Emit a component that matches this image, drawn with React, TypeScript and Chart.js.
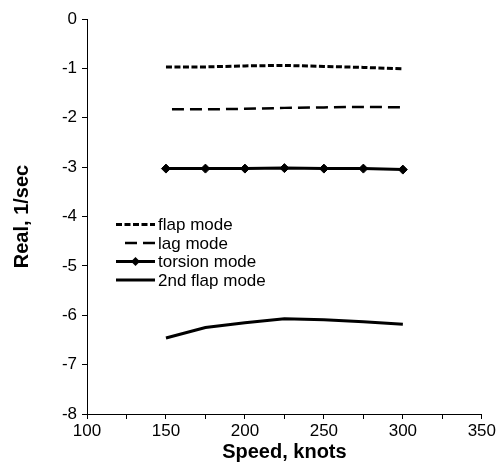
import React, { useEffect, useRef } from "react";
import { Chart, registerables } from "chart.js";

Chart.register(...registerables);

const speeds = [150, 175, 200, 225, 250, 275, 300];
const flapMode = [-0.97, -0.97, -0.95, -0.94, -0.96, -0.98, -1.01];
const lagMode = [-1.83, -1.83, -1.82, -1.8, -1.79, -1.78, -1.79];
const torsionMode = [-3.03, -3.03, -3.03, -3.02, -3.03, -3.03, -3.05];
const flap2Mode = [-6.46, -6.25, -6.15, -6.07, -6.09, -6.13, -6.18];
const seriesLabels = ["flap mode", "lag mode", "torsion mode", "2nd flap mode"];
const xTitle = "Speed, knots";
const yTitle = "Real, 1/sec";

const FONT = "'Liberation Sans', Arial, sans-serif";

const pts = (ys: number[]) => speeds.map((x, i) => ({ x, y: ys[i] }));

const legendPlugin = {
  id: "insideLegend",
  afterDraw(chart: any) {
    const ctx = chart.ctx;
    const ds = chart.data.datasets;
    const x0 = 116;
    const x1 = 155;
    const tx = 158;
    const rows = [224.5, 243, 261.5, 280];
    ctx.save();
    ctx.font = `17px ${FONT}`;
    ctx.textBaseline = "middle";
    ctx.fillStyle = "#000";
    ds.forEach((d: any, i: number) => {
      const y = rows[i];
      ctx.strokeStyle = "#000";
      ctx.lineWidth = d.borderWidth;
      ctx.setLineDash(d.borderDash || []);
      ctx.lineDashOffset = 0;
      ctx.beginPath();
      const start = i === 1 ? 125 : x0;
      ctx.moveTo(start, y);
      ctx.lineTo(x1, y);
      ctx.stroke();
      ctx.setLineDash([]);
      if (d.pointRadius > 0) {
        const cx = (x0 + x1) / 2;
        const r = d.pointRadius;
        ctx.beginPath();
        ctx.moveTo(cx, y - r);
        ctx.lineTo(cx + r, y);
        ctx.lineTo(cx, y + r);
        ctx.lineTo(cx - r, y);
        ctx.closePath();
        ctx.fill();
      }
      ctx.fillText(d.label, tx, y + 1);
    });
    ctx.restore();
  },
};

export default function App() {
  const ref = useRef<HTMLCanvasElement>(null);
  useEffect(() => {
    if (!ref.current) return;
    const chart = new Chart(ref.current, {
      type: "line",
      data: {
        datasets: [
          {
            label: seriesLabels[0],
            data: pts(flapMode),
            borderColor: "#000",
            backgroundColor: "#000",
            borderWidth: 3,
            borderDash: [6, 2.5],
            pointRadius: 0,
            tension: 0,
          },
          {
            label: seriesLabels[1],
            data: pts(lagMode),
            borderColor: "#000",
            backgroundColor: "#000",
            borderWidth: 2.5,
            borderDash: [12, 6],
            borderDashOffset: 12,
            pointRadius: 0,
            tension: 0,
          },
          {
            label: seriesLabels[2],
            data: pts(torsionMode),
            borderColor: "#000",
            backgroundColor: "#000",
            borderWidth: 3,
            pointStyle: "rectRot",
            pointRadius: 4.5,
            pointBorderWidth: 1,
            tension: 0,
          },
          {
            label: seriesLabels[3],
            data: pts(flap2Mode),
            borderColor: "#000",
            backgroundColor: "#000",
            borderWidth: 3,
            pointRadius: 0,
            tension: 0,
          },
        ],
      },
      options: {
        animation: false,
        responsive: false,
        maintainAspectRatio: false,
        layout: { padding: { top: 19, right: 15, left: 0, bottom: 0 } },
        plugins: {
          legend: { display: false },
          tooltip: { enabled: false },
        },
        scales: {
          x: {
            type: "linear",
            min: 100,
            max: 350,
            afterFit: (s: any) => {
              s.height = 52;
            },
            ticks: {
              stepSize: 25,
              autoSkip: false,
              maxRotation: 0,
              color: "#000",
              font: { family: FONT, size: 17 },
              padding: 2,
              callback: (v: any) => (Number(v) % 50 === 0 ? String(v) : ""),
            },
            grid: {
              drawOnChartArea: false,
              drawTicks: true,
              tickLength: 5,
              color: "#000",
            },
            border: { color: "#000", width: 1 },
            title: {
              display: true,
              text: xTitle,
              color: "#000",
              font: { family: FONT, size: 20, weight: "bold" },
              padding: { top: 0, bottom: 2 },
            },
          },
          y: {
            type: "linear",
            min: -8,
            max: 0,
            afterFit: (s: any) => {
              s.width = 87;
            },
            ticks: {
              stepSize: 1,
              color: "#000",
              font: { family: FONT, size: 17 },
              padding: 5,
            },
            grid: {
              drawOnChartArea: false,
              drawTicks: true,
              tickLength: 5,
              color: "#000",
            },
            border: { color: "#000", width: 1 },
            title: {
              display: true,
              text: yTitle,
              color: "#000",
              font: { family: FONT, size: 20, weight: "bold" },
              padding: { top: 10, bottom: 0 },
            },
          },
        },
      },
      plugins: [legendPlugin],
    } as any);
    return () => chart.destroy();
  }, []);
  return (
    <div style={{ position: "fixed", left: 0, top: 0, width: 498, height: 466, background: "#fff" }}>
      <canvas ref={ref} width={498} height={466} style={{ width: 498, height: 466, display: "block" }} />
    </div>
  );
}
